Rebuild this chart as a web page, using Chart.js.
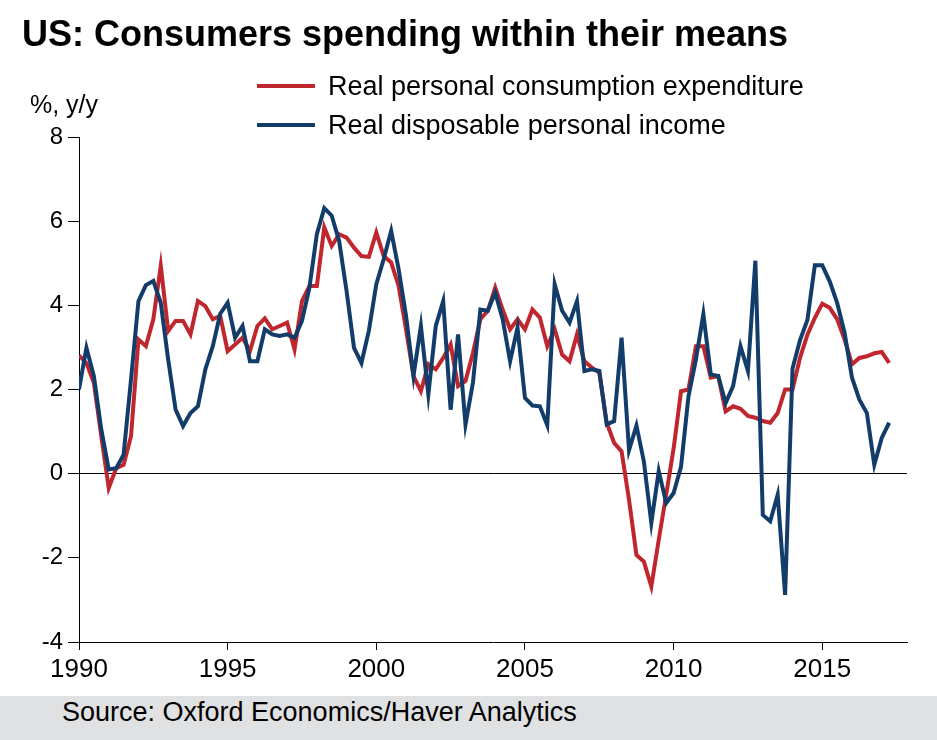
<!DOCTYPE html>
<html>
<head>
<meta charset="utf-8">
<script src="https://cdn.jsdelivr.net/npm/chart.js@4.4.1/dist/chart.umd.min.js"></script>
<style>
  html, body { margin: 0; padding: 0; background: #fff; }
  body { width: 937px; height: 740px; position: relative; overflow: hidden; font-family: "Liberation Sans", Arial, sans-serif; color: #000; }
  #title { position: absolute; left: 22px; top: 13px; font-size: 36px; font-weight: bold; line-height: 42px; white-space: nowrap; }
  #unit { position: absolute; left: 30px; top: 90px; font-size: 25px; line-height: 28px; }
  .leg { position: absolute; left: 257px; height: 30px; white-space: nowrap; }
  .leg .swatch { position: absolute; left: 0; top: 13px; width: 58px; height: 4px; }
  .leg .txt { position: absolute; left: 71px; top: 0; font-size: 27px; line-height: 30px; }
  #chartBox { position: absolute; left: 0; top: 0; width: 937px; height: 696px; }
  #source { position: absolute; left: 0; top: 696px; width: 937px; height: 44px; background: #e0e1e3; }
  #source span { position: absolute; left: 62px; top: 1px; font-size: 27px; line-height: 30px; }
</style>
</head>
<body>
<div id="chartBox"><canvas id="chart" width="937" height="696"></canvas></div>
<div id="title">US: Consumers spending within their means</div>
<div id="unit">%, y/y</div>
<div class="leg" style="top:71px"><div class="swatch" style="background:#c0262d"></div><div class="txt">Real personal consumption expenditure</div></div>
<div class="leg" style="top:110px"><div class="swatch" style="background:#123d6b"></div><div class="txt">Real disposable personal income</div></div>
<div id="source"><span>Source: Oxford Economics/Haver Analytics</span></div>
<script>
// quarterly y/y growth, starting 1990 Q1
const startYear = 1990;
const xTicks = [1990, 1995, 2000, 2005, 2010, 2015];
const yTicks = [-4, -2, 0, 2, 4, 6, 8];

const pce = [
  2.81, 2.63, 2.16, 0.89, -0.34, 0.13, 0.21, 0.89, 3.19, 3.03,
  3.67, 4.94, 3.39, 3.63, 3.63, 3.31, 4.10, 3.98, 3.67, 3.75,
  2.91, 3.07, 3.23, 2.91, 3.51, 3.69, 3.43, 3.51, 3.59, 2.95,
  4.10, 4.46, 4.46, 5.85, 5.41, 5.69, 5.61, 5.37, 5.17, 5.15,
  5.73, 5.17, 5.02, 4.46, 3.43, 2.32, 1.96, 2.60, 2.48, 2.75,
  3.07, 2.08, 2.20, 2.87, 3.67, 3.87, 4.42, 3.90, 3.43, 3.67,
  3.43, 3.90, 3.71, 3.03, 3.43, 2.83, 2.67, 3.31, 2.67, 2.52,
  2.40, 1.21, 0.73, 0.53, -0.62, -1.93, -2.09, -2.68, -1.57, -0.50,
  0.60, 1.96, 2.00, 3.03, 3.03, 2.28, 2.32, 1.48, 1.60, 1.54,
  1.37, 1.33, 1.25, 1.21, 1.44, 2.00, 2.00, 2.75, 3.30, 3.70,
  4.04, 3.94, 3.67, 3.19, 2.60, 2.75, 2.79, 2.86, 2.89, 2.63
];

const rdpi = [
  2.00, 2.99, 2.32, 1.05, 0.10, 0.13, 0.45, 2.24, 4.10, 4.48,
  4.58, 4.06, 2.71, 1.52, 1.13, 1.44, 1.60, 2.48, 3.03, 3.80,
  4.06, 3.23, 3.51, 2.67, 2.67, 3.43, 3.31, 3.27, 3.31, 3.23,
  3.63, 4.42, 5.69, 6.31, 6.13, 5.53, 4.34, 2.99, 2.63, 3.40,
  4.50, 5.10, 5.77, 4.86, 3.75, 2.32, 3.51, 1.88, 3.51, 4.10,
  1.52, 3.31, 1.17, 2.16, 3.90, 3.87, 4.30, 3.67, 2.67, 3.47,
  1.80, 1.62, 1.60, 1.15, 4.50, 3.87, 3.59, 4.10, 2.44, 2.48,
  2.44, 1.17, 1.25, 3.23, 0.56, 1.14, 0.29, -1.17, 0.06, -0.70,
  -0.46, 0.17, 1.84, 2.71, 3.79, 2.36, 2.32, 1.68, 2.08, 3.03,
  2.44, 5.06, -0.98, -1.13, -0.50, -2.88, 2.50, 3.17, 3.65, 4.95,
  4.95, 4.57, 4.06, 3.35, 2.28, 1.76, 1.44, 0.21, 0.85, 1.21
];

const RED = '#c0262d';
const BLUE = '#123d6b';
const FONT = '"Liberation Sans", Arial, sans-serif';

function toPoints(vals) {
    return vals.map((v, i) => ({ x: startYear + i / 4, y: v }));
}

const ctx = document.getElementById('chart');
new Chart(ctx, {
    type: 'line',
    data: {
        datasets: [
            { label: 'Real disposable personal income', data: toPoints(rdpi), borderColor: BLUE, borderWidth: 4, pointRadius: 0, tension: 0, fill: false },
            { label: 'Real personal consumption expenditure', data: toPoints(pce), borderColor: RED, borderWidth: 4, pointRadius: 0, tension: 0, fill: false }
        ]
    },
    options: {
        responsive: false,
        animation: false,
        layout: { padding: { top: 137, right: 30, left: 0, bottom: 0 } },
        plugins: { legend: { display: false }, tooltip: { enabled: false } },
        scales: {
            x: {
                type: 'linear', min: 1990, max: 2017.85,
                afterBuildTicks: s => { s.ticks = xTicks.map(v => ({ value: v })); },
                afterFit: s => { s.height = 54; },
                ticks: { color: '#000', font: { family: FONT, size: 26 }, padding: 4, maxRotation: 0, autoSkip: false, callback: v => String(v) },
                grid: { drawOnChartArea: false, tickLength: 8, tickColor: '#000' },
                border: { color: '#000', width: 1 }
            },
            y: {
                min: -4, max: 8,
                afterBuildTicks: s => { s.ticks = yTicks.map(v => ({ value: v })); },
                afterFit: s => { s.width = 79; },
                ticks: { color: '#000', font: { family: FONT, size: 24 }, padding: 5 },
                grid: { color: c => c.tick && c.tick.value === 0 ? '#000' : 'rgba(0,0,0,0)', tickColor: '#000', tickLength: 11 },
                border: { color: '#000', width: 1 }
            }
        }
    }
});
</script>
</body>
</html>
